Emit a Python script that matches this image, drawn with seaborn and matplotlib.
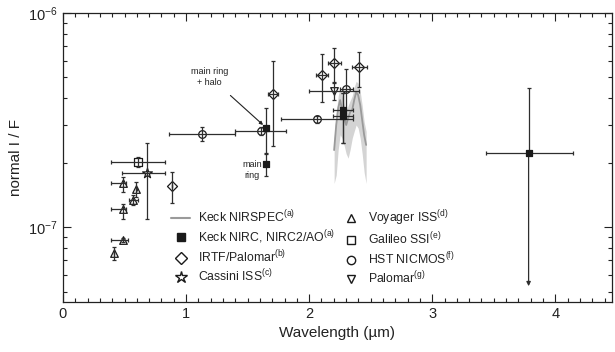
import numpy as np
import pandas as pd
import seaborn as sns
import matplotlib
matplotlib.use('Agg')
import matplotlib.pyplot as plt
from matplotlib.lines import Line2D
from matplotlib.ticker import MultipleLocator

# Keck NIRSPEC spectrum (line + uncertainty band)
spec_wl = [2.203, 2.220, 2.236, 2.252, 2.268, 2.285, 2.301, 2.317, 2.333,
           2.350, 2.366, 2.382, 2.398, 2.415, 2.431, 2.447, 2.463]
spec_val = [2.29e-7, 3.00e-7, 3.60e-7, 3.92e-7, 3.52e-7, 3.23e-7, 3.00e-7, 3.23e-7, 3.45e-7,
            3.52e-7, 3.92e-7, 4.27e-7, 4.14e-7, 3.72e-7, 3.16e-7, 2.69e-7, 2.42e-7]
spec_lo = [1.60e-7, 1.75e-7, 2.30e-7, 2.70e-7, 2.60e-7, 2.40e-7, 2.20e-7, 2.10e-7, 2.30e-7,
           2.60e-7, 2.80e-7, 3.00e-7, 2.90e-7, 2.60e-7, 2.20e-7, 1.80e-7, 1.60e-7]
spec_hi = [2.60e-7, 3.40e-7, 4.10e-7, 4.50e-7, 4.10e-7, 3.70e-7, 3.40e-7, 3.70e-7, 3.90e-7,
           4.10e-7, 4.50e-7, 4.80e-7, 4.70e-7, 4.30e-7, 3.70e-7, 3.10e-7, 2.80e-7]

# Keck NIRC, NIRC2/AO (last point is an upper limit)
nirc_wl = [1.65, 1.65, 2.274, 2.274, 3.783]
nirc_val = [2.90e-7, 1.963e-7, 3.52e-7, 3.31e-7, 2.225e-7]
nirc_ylo = [2.21e-7, 1.73e-7, 2.46e-7, 2.46e-7, 2.225e-7]
nirc_yhi = [3.59e-7, 2.19e-7, 4.21e-7, 4.21e-7, 4.48e-7]
nirc_xlo = [1.65, 1.65, 2.193, 2.193, 3.437]
nirc_xhi = [1.65, 1.65, 2.360, 2.360, 4.141]
nirc_limit = 5.30e-8

# IRTF/Palomar
irtf_wl = [0.889, 1.705, 2.103, 2.206, 2.404]
irtf_val = [1.56e-7, 4.18e-7, 5.13e-7, 5.82e-7, 5.59e-7]
irtf_ylo = [1.30e-7, 2.39e-7, 3.85e-7, 4.78e-7, 4.52e-7]
irtf_yhi = [1.813e-7, 5.97e-7, 6.43e-7, 6.84e-7, 6.59e-7]
irtf_xlo = [0.889, 1.669, 2.054, 2.152, 2.347]
irtf_xhi = [0.889, 1.746, 2.157, 2.260, 2.469]

# Cassini ISS
cas_wl = [0.685]
cas_val = [1.782e-7]
cas_ylo = [1.086e-7]
cas_yhi = [2.46e-7]
cas_xlo = [0.477]
cas_xhi = [0.832]

# Voyager ISS
voy_wl = [0.49, 0.49, 0.593, 0.567, 0.49, 0.415]
voy_val = [1.605e-7, 1.21e-7, 1.50e-7, 1.337e-7, 8.70e-8, 7.58e-8]
voy_ylo = [1.462e-7, 1.09e-7, 1.386e-7, 1.27e-7, 8.5e-8, 7.06e-8]
voy_yhi = [1.718e-7, 1.285e-7, 1.629e-7, 1.41e-7, 8.9e-8, 8.09e-8]
voy_xlo = [0.388, 0.388, 0.59, 0.537, 0.388, 0.415]
voy_xhi = [0.51, 0.51, 0.60, 0.61, 0.53, 0.415]

# Galileo SSI
gal_wl = [0.607]
gal_val = [2.018e-7]
gal_ylo = [1.91e-7]
gal_yhi = [2.13e-7]
gal_xlo = [0.388]
gal_xhi = [0.832]

# HST NICMOS
hst_wl = [1.126, 1.607, 2.067, 2.303]
hst_val = [2.72e-7, 2.82e-7, 3.20e-7, 4.42e-7]
hst_ylo = [2.52e-7, 2.70e-7, 3.08e-7, 3.52e-7]
hst_yhi = [2.92e-7, 2.95e-7, 3.32e-7, 5.46e-7]
hst_xlo = [0.862, 1.401, 1.770, 2.252]
hst_xhi = [1.394, 1.811, 2.360, 2.360]

# Palomar
pal_wl = [2.206]
pal_val = [4.32e-7]
pal_ylo = [3.92e-7]
pal_yhi = [4.71e-7]
pal_xlo = [2.002]
pal_xhi = [2.407]


def draw_group(ax, wl, val, xlo, xhi, ylo, yhi, marker, filled=False, size=30):
    wl = np.array(wl)
    val = np.array(val)
    xerr = [wl - np.array(xlo), np.array(xhi) - wl]
    yerr = [val - np.array(ylo), np.array(yhi) - val]
    ax.errorbar(wl, val, xerr=xerr, yerr=yerr, fmt='none', ecolor='#2e2e2e',
                elinewidth=0.9, capsize=1.5, capthick=0.9, zorder=3)
    df = pd.DataFrame({'wl': wl, 'val': val})
    sns.scatterplot(data=df, x='wl', y='val', ax=ax, marker=marker, s=size,
                    color='#1a1a1a' if filled else 'white', edgecolor='#1a1a1a',
                    linewidth=0.9, zorder=4 if filled else 2, legend=False)


sns.set_theme(style='ticks')
plt.rcParams['font.family'] = ['Liberation Sans', 'DejaVu Sans']
plt.rcParams['mathtext.fontset'] = 'custom'
plt.rcParams['mathtext.rm'] = 'Liberation Sans'
plt.rcParams['mathtext.it'] = 'Liberation Sans:italic'

fig, ax = plt.subplots(figsize=(6.15, 3.52), dpi=100)
fig.subplots_adjust(left=0.1024, right=0.995, top=0.963, bottom=0.142)

# spectrum
ax.fill_between(spec_wl, spec_lo, spec_hi, color='#d4d4d4', lw=0, zorder=1)
sns.lineplot(x=spec_wl, y=spec_val, ax=ax, color='#9a9a9a', lw=1.3, zorder=1.5)

draw_group(ax, voy_wl, voy_val, voy_xlo, voy_xhi, voy_ylo, voy_yhi, '^')
draw_group(ax, gal_wl, gal_val, gal_xlo, gal_xhi, gal_ylo, gal_yhi, 's')
draw_group(ax, cas_wl, cas_val, cas_xlo, cas_xhi, cas_ylo, cas_yhi, '*', size=55)
draw_group(ax, irtf_wl, irtf_val, irtf_xlo, irtf_xhi, irtf_ylo, irtf_yhi, 'D', size=26)
draw_group(ax, hst_wl, hst_val, hst_xlo, hst_xhi, hst_ylo, hst_yhi, 'o')
draw_group(ax, pal_wl, pal_val, pal_xlo, pal_xhi, pal_ylo, pal_yhi, 'v')
draw_group(ax, nirc_wl, nirc_val, nirc_xlo, nirc_xhi, nirc_ylo, nirc_yhi, 's', filled=True, size=22)

# upper-limit arrow for the 3.8 micron point
ax.annotate('', xy=(nirc_wl[-1], nirc_limit), xytext=(nirc_wl[-1], nirc_val[-1]),
            arrowprops=dict(arrowstyle='-|>', color='#2e2e2e', lw=0.9,
                            mutation_scale=6, shrinkA=0, shrinkB=0), zorder=3)

# labels for the two 1.65 micron points
ax.annotate('main ring\n+ halo', xy=(1.626, 3.0e-7), xytext=(1.19, 5.05e-7),
            ha='center', va='center', fontsize=6.5, color='#222222', linespacing=1.3,
            arrowprops=dict(arrowstyle='-|>', color='#222222', lw=0.8,
                            mutation_scale=5, shrinkA=6, shrinkB=0))
ax.text(1.535, 1.85e-7, 'main\nring', ha='center', va='center', fontsize=6.5,
        color='#222222', linespacing=1.3)

ax.set_yscale('log')
ax.set_xlim(0, 4.46)
ax.set_ylim(4.47e-8, 1e-6)
ax.xaxis.set_major_locator(MultipleLocator(1))
ax.xaxis.set_minor_locator(MultipleLocator(0.1))
ax.tick_params(which='both', direction='in', top=True, right=True, labelsize=10.5,
               colors='#222222', width=0.8)
ax.tick_params(which='major', length=6)
ax.tick_params(which='minor', length=3)
for s in ax.spines.values():
    s.set_linewidth(0.9)
    s.set_color('#222222')

ax.set_xlabel('Wavelength (\u00b5m)', fontsize=11, color='#222222')
ax.set_ylabel('normal I / F', fontsize=11, color='#222222')

handles = [
    Line2D([], [], color='#9a9a9a', lw=1.5),
    Line2D([], [], ls='none', marker='s', ms=5.5, mfc='#1a1a1a', mec='#1a1a1a'),
    Line2D([], [], ls='none', marker='D', ms=6, mfc='white', mec='#1a1a1a'),
    Line2D([], [], ls='none', marker='*', ms=9, mfc='white', mec='#1a1a1a'),
    Line2D([], [], ls='none', marker='^', ms=6, mfc='white', mec='#1a1a1a'),
    Line2D([], [], ls='none', marker='s', ms=6, mfc='white', mec='#1a1a1a'),
    Line2D([], [], ls='none', marker='o', ms=6, mfc='white', mec='#1a1a1a'),
    Line2D([], [], ls='none', marker='v', ms=6, mfc='white', mec='#1a1a1a'),
]
labels = [
    r'Keck NIRSPEC$^{\rm (a)}$',
    r'Keck NIRC, NIRC2/AO$^{\rm (a)}$',
    r'IRTF/Palomar$^{\rm (b)}$',
    r'Cassini ISS$^{\rm (c)}$',
    r'Voyager ISS$^{\rm (d)}$',
    r'Galileo SSI$^{\rm (e)}$',
    r'HST NICMOS$^{\rm (f)}$',
    r'Palomar$^{\rm (g)}$',
]
ax.legend(handles, labels, ncol=2, frameon=False, fontsize=8.8, loc='lower center',
          bbox_to_anchor=(0.455, 0.025), handlelength=1.6, handletextpad=0.6,
          columnspacing=0.5, labelspacing=0.22, borderpad=0.2, labelcolor='#222222')

plt.savefig('out.png', dpi=100)
